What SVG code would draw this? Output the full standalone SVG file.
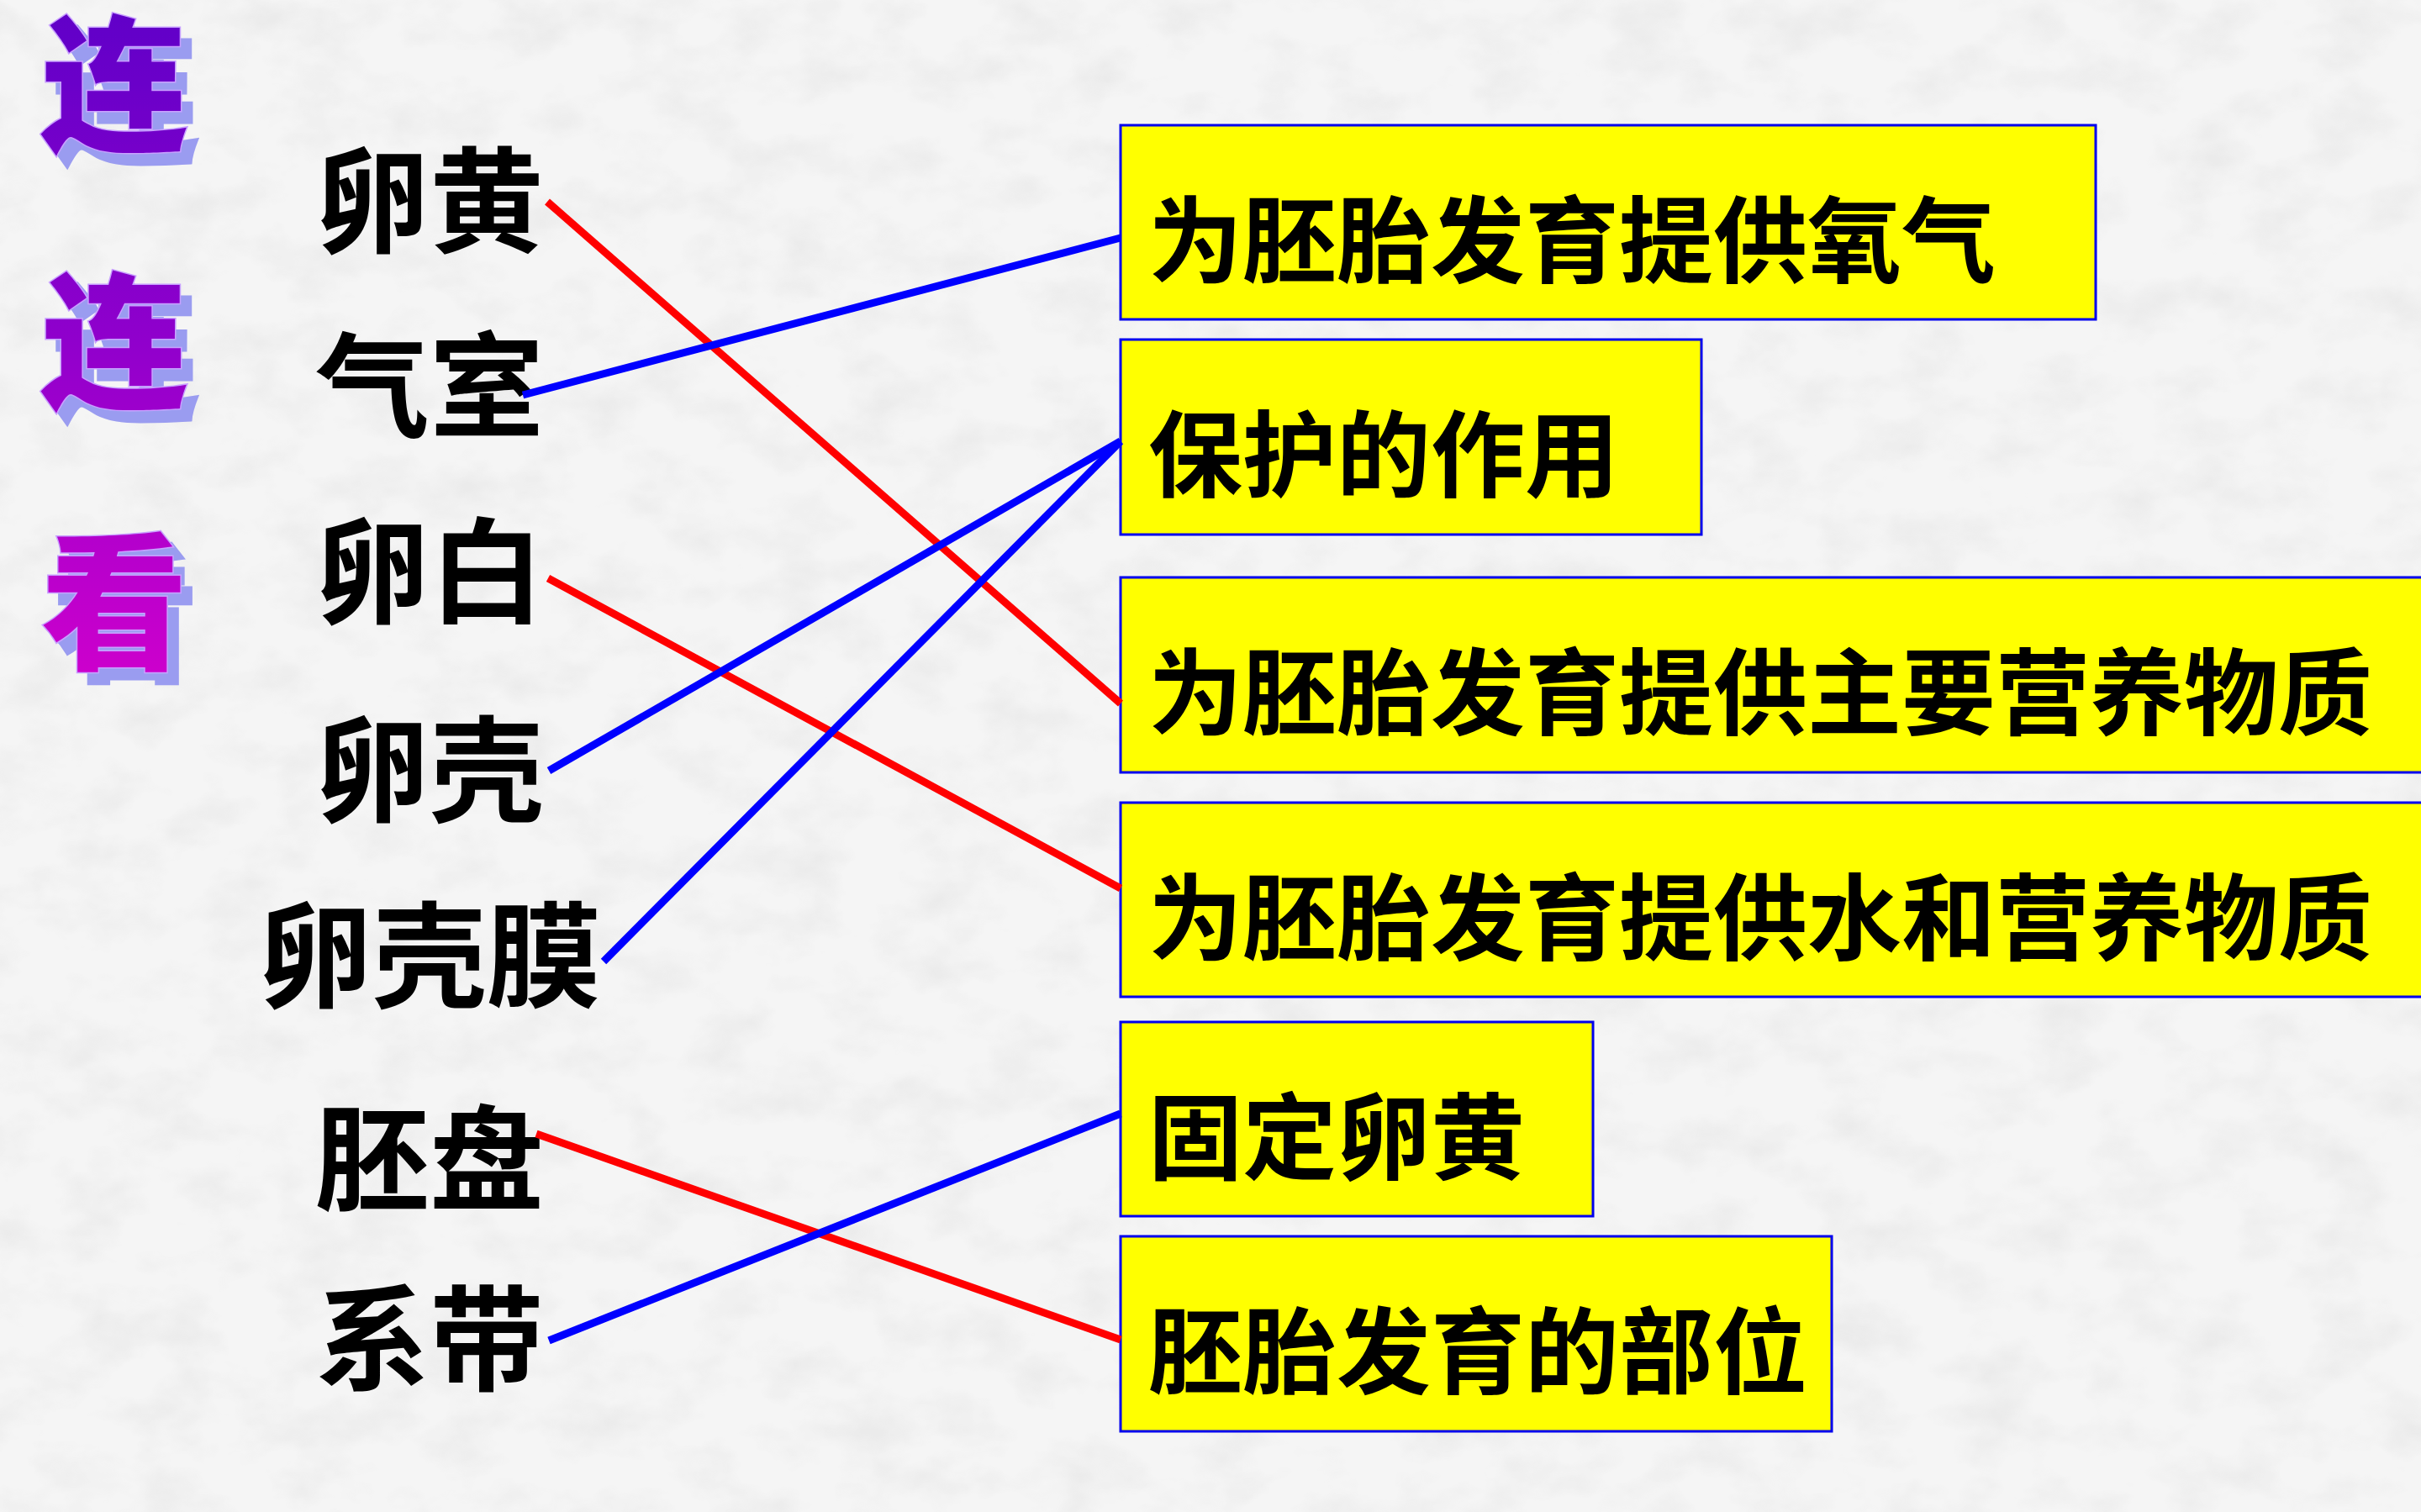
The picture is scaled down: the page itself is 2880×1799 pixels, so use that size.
<svg xmlns="http://www.w3.org/2000/svg" width="2880" height="1799" viewBox="0 0 2880 1799">
  <defs>
    <linearGradient id="titleGrad" gradientUnits="userSpaceOnUse" x1="0" y1="10" x2="0" y2="800">
      <stop offset="0" stop-color="#6000c8"/>
      <stop offset="0.5" stop-color="#9000cc"/>
      <stop offset="1" stop-color="#cc00cc"/>
    </linearGradient>
    <filter id="paper" x="0" y="0" width="100%" height="100%">
      <feTurbulence type="fractalNoise" baseFrequency="0.012 0.018" numOctaves="4" seed="7" result="n"/>
      <feColorMatrix in="n" type="matrix" values="0 0 0 0 0.55  0 0 0 0 0.55  0 0 0 0 0.55  0 0 0 -2.2 1.25"/>
    </filter>
    <filter id="titleShadow" x="-20%" y="-20%" width="150%" height="150%">
      <feFlood flood-color="#9a9cf0"/>
      <feComposite in2="SourceAlpha" operator="in"/>
      <feOffset dx="13" dy="14" result="s"/>
      <feMerge>
        <feMergeNode in="s"/>
        <feMergeNode in="SourceGraphic"/>
      </feMerge>
    </filter>
    <style>
      .title { font-family: "Noto Sans CJK SC", "Noto Sans CJK TC", sans-serif; font-weight: 900; font-size: 175px; text-anchor: middle; fill: url(#titleGrad); stroke: #c8a0ff; stroke-width: 3; paint-order: stroke; }
      .label { font-family: "Noto Sans CJK SC", "Noto Sans CJK TC", sans-serif; font-weight: 700; font-size: 136px; fill: #000; text-anchor: middle; }
      .box rect { fill: #ffff00; stroke: #0000ee; stroke-width: 3; }
      .box text { font-family: "Noto Sans CJK SC", "Noto Sans CJK TC", sans-serif; font-weight: 700; font-size: 112px; fill: #000; }
      .red { stroke: #ff0000; stroke-width: 9; fill: none; }
      .blue { stroke: #0000ff; stroke-width: 9; fill: none; }
    </style>
  </defs>

  <rect x="0" y="0" width="2880" height="1799" fill="#f5f5f5"/>
  <rect x="0" y="0" width="2880" height="1799" filter="url(#paper)" opacity="0.2"/>

  <g id="title" filter="url(#titleShadow)">
    <text class="title" x="136" y="166">连</text>
    <text class="title" x="136" y="472">连</text>
    <text class="title" x="136" y="782">看</text>
  </g>

  <g id="label-luanhuang"><text class="label" x="511" y="290">卵黄</text></g>
  <g id="label-qishi"><text class="label" x="511" y="510">气室</text></g>
  <g id="label-luanbai"><text class="label" x="511" y="731">卵白</text></g>
  <g id="label-luanke"><text class="label" x="511" y="967">卵壳</text></g>
  <g id="label-luankemo"><text class="label" x="511" y="1188">卵壳膜</text></g>
  <g id="label-peipan"><text class="label" x="511" y="1430">胚盘</text></g>
  <g id="label-xidai"><text class="label" x="511" y="1644">系带</text></g>

  <g id="box-oxygen" class="box">
    <rect x="1333" y="149" width="1160" height="231"/>
    <text x="1366" y="328">为胚胎发育提供氧气</text>
  </g>
  <g id="box-protect" class="box">
    <rect x="1333" y="404" width="691" height="232"/>
    <text x="1366" y="583">保护的作用</text>
  </g>
  <g id="box-nutrition" class="box">
    <rect x="1333" y="687" width="1600" height="232"/>
    <text x="1366" y="866">为胚胎发育提供主要营养物质</text>
  </g>
  <g id="box-water" class="box">
    <rect x="1333" y="955" width="1600" height="231"/>
    <text x="1366" y="1134">为胚胎发育提供水和营养物质</text>
  </g>
  <g id="box-fix" class="box">
    <rect x="1333" y="1216" width="562" height="231"/>
    <text x="1366" y="1395">固定卵黄</text>
  </g>
  <g id="box-site" class="box">
    <rect x="1333" y="1471" width="846" height="232"/>
    <text x="1366" y="1650">胚胎发育的部位</text>
  </g>

  <g id="connectors">
    <line class="red" x1="651" y1="240" x2="1333" y2="837"/>
    <line class="blue" x1="622" y1="470" x2="1333" y2="283"/>
    <line class="red" x1="652" y1="688" x2="1333" y2="1057"/>
    <line class="blue" x1="653" y1="917" x2="1333" y2="525"/>
    <line class="blue" x1="718" y1="1144" x2="1333" y2="525"/>
    <line class="red" x1="638" y1="1349" x2="1333" y2="1594"/>
    <line class="blue" x1="653" y1="1595" x2="1333" y2="1325"/>
  </g>
</svg>
